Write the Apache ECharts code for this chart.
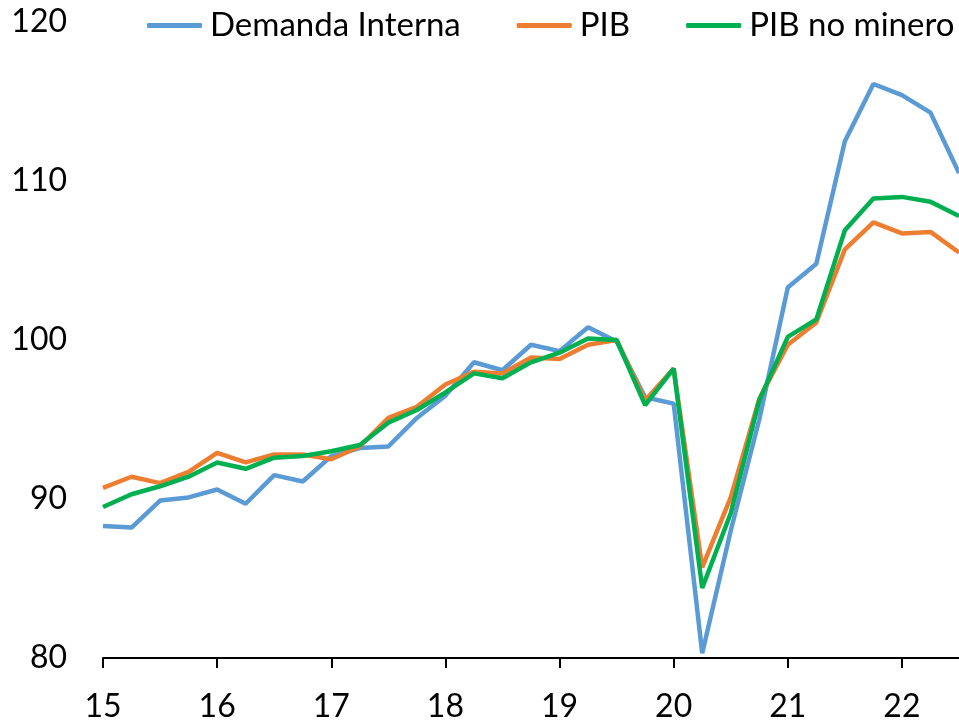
<!DOCTYPE html>
<html>
<head>
<meta charset="utf-8">
<script src="https://cdn.jsdelivr.net/npm/echarts@6/dist/echarts.min.js"></script>
<style>
  html, body { margin: 0; padding: 0; background: #fff; }
  #chart { width: 959px; height: 724px; }
</style>
</head>
<body>
<div id="chart"></div>
<script>
// trimestres 15Q1 .. 22Q3
var quarters = ['15Q1','15Q2','15Q3','15Q4','16Q1','16Q2','16Q3','16Q4',
  '17Q1','17Q2','17Q3','17Q4','18Q1','18Q2','18Q3','18Q4',
  '19Q1','19Q2','19Q3','19Q4','20Q1','20Q2','20Q3','20Q4',
  '21Q1','21Q2','21Q3','21Q4','22Q1','22Q2','22Q3'];

var demandaInterna = [88.3, 88.2, 89.9, 90.1, 90.6, 89.7, 91.5, 91.1,
  92.7, 93.2, 93.3, 95.1, 96.5, 98.6, 98.1, 99.7,
  99.3, 100.8, 99.9, 96.4, 96.0, 80.3, 88.0, 95.0,
  103.3, 104.8, 112.5, 116.1, 115.4, 114.3, 110.5];

var pib = [90.7, 91.4, 91.0, 91.7, 92.9, 92.3, 92.8, 92.8,
  92.5, 93.3, 95.1, 95.8, 97.2, 98.0, 97.9, 98.9,
  98.8, 99.7, 100.0, 96.2, 98.2, 85.7, 90.1, 96.3,
  99.7, 101.1, 105.7, 107.4, 106.7, 106.8, 105.5];

var pibNoMinero = [89.5, 90.3, 90.8, 91.4, 92.3, 91.9, 92.6, 92.7,
  93.0, 93.4, 94.8, 95.6, 96.7, 97.9, 97.6, 98.6,
  99.2, 100.1, 100.0, 95.9, 98.2, 84.4, 89.1, 96.2,
  100.2, 101.3, 106.9, 108.9, 109.0, 108.7, 107.8];

var yTicks = [80, 90, 100, 110, 120];

var font = "Lato, 'Noto Sans', sans-serif";
var chart = echarts.init(document.getElementById('chart'));

chart.setOption({
  animation: false,
  textStyle: { fontFamily: font },
  grid: { left: 103, right: 0, top: 22, bottom: 66, containLabel: false },
  legend: {
    top: 4,
    left: 142,
    width: 900,
    itemWidth: 55,
    itemHeight: 5,
    itemGap: 56,
    icon: 'roundRect',
    textStyle: { fontSize: 33, color: '#000', fontFamily: font, padding: [0, 0, 0, 3] },
    data: ['Demanda Interna', 'PIB', 'PIB no minero']
  },
  xAxis: {
    type: 'category',
    data: quarters,
    boundaryGap: false,
    axisLine: { lineStyle: { color: '#000', width: 2 } },
    axisTick: { show: true, interval: 3, length: 10, lineStyle: { color: '#000', width: 2 } },
    axisLabel: {
      interval: 3,
      margin: 33,
      fontSize: 32,
      color: '#000',
      formatter: function (v) { return v.slice(0, 2); }
    },
    splitLine: { show: false }
  },
  yAxis: {
    type: 'value',
    min: yTicks[0],
    max: yTicks[yTicks.length - 1],
    interval: 10,
    axisLine: { show: false },
    axisTick: { show: false },
    splitLine: { show: false },
    axisLabel: { fontSize: 32, color: '#000', margin: 36 }
  },
  series: [
    {
      name: 'Demanda Interna', type: 'line', data: demandaInterna,
      showSymbol: false, lineStyle: { width: 4.5, color: '#5B9BD5' }, itemStyle: { color: '#5B9BD5' }
    },
    {
      name: 'PIB', type: 'line', data: pib,
      showSymbol: false, lineStyle: { width: 4.5, color: '#ED7D31' }, itemStyle: { color: '#ED7D31' }
    },
    {
      name: 'PIB no minero', type: 'line', data: pibNoMinero,
      showSymbol: false, lineStyle: { width: 4.5, color: '#00B050' }, itemStyle: { color: '#00B050' }
    }
  ]
});
</script>
</body>
</html>
